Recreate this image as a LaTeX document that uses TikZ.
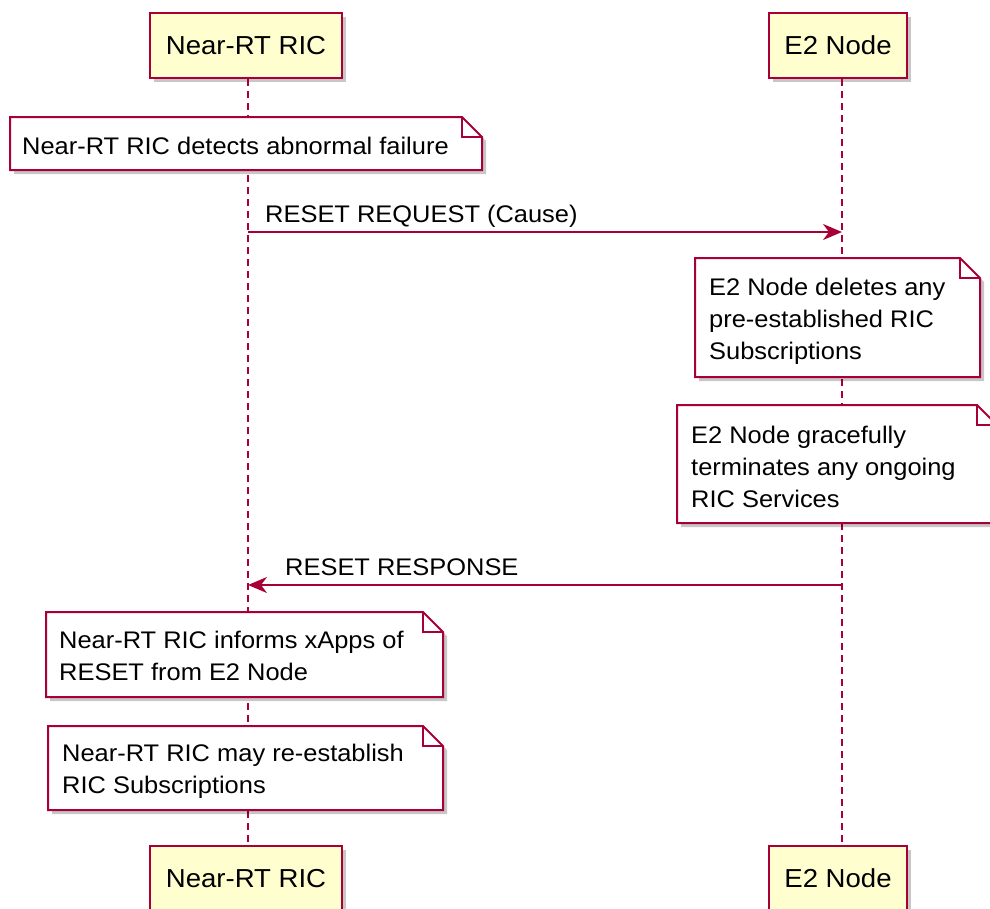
\documentclass[tikz,border=0pt]{standalone}
\usepackage{fontspec}
\setmainfont{Liberation Sans}[FakeStretch=1.06]
\usetikzlibrary{arrows.meta,shadows}
\definecolor{pumlred}{HTML}{A80036}
\definecolor{pumlfill}{HTML}{FEFECE}
\tikzset{
  softshadow/.style={drop shadow={shadow xshift=4pt,shadow yshift=-4pt,fill=black,opacity=0.22}},
  actor/.style={draw=pumlred, fill=pumlfill, line width=2pt, inner sep=0pt,
    font=\fontsize{26}{30}\selectfont, text=black, softshadow},
  lifeline/.style={draw=pumlred, line width=1.8pt, dash pattern=on 7pt off 5pt},
  msg/.style={draw=pumlred, line width=1.8pt, -{Stealth[length=19pt,width=16pt,inset=6pt]}},
  notebody/.style={draw=pumlred, fill=white, line width=2pt, line join=miter, softshadow},
  notefold/.style={draw=pumlred, line width=2pt},
  notetext/.style={anchor=base west, inner sep=0pt, align=left, text=black,
    font=\fontsize{24}{32}\selectfont},
  msgtext/.style={anchor=base west, inner sep=0pt, text=black,
    font=\fontsize{24}{32}\selectfont},
}
\newcommand\mknote[4]{%
  \draw[notebody] (#1,#2) -- ({#3-20},#2) -- (#3,{#2+20}) -- (#3,#4) -- (#1,#4) -- cycle;
  \draw[notefold] ({#3-20},#2) -- ({#3-20},{#2+20}) -- (#3,{#2+20});
}
\begin{document}
\begin{tikzpicture}[x=1pt,y=-1pt]
\useasboundingbox (0,0) rectangle (990,908);
\clip (0,0) rectangle (990,908);
\fill[white] (0,0) rectangle (990,908);

% participants
\node[actor, minimum width=192pt, minimum height=65pt] (ricT) at (246,45.5) {Near-RT RIC};
\node[actor, minimum width=138pt, minimum height=65pt] (e2T) at (838,45.5) {E2 Node};
\node[actor, minimum width=192pt, minimum height=65pt] (ricB) at (246,878.5) {Near-RT RIC};
\node[actor, minimum width=138pt, minimum height=65pt] (e2B) at (838,878.5) {E2 Node};

% lifelines
\draw[lifeline] ([xshift=2pt]ricT.south) -- ([xshift=2pt]ricB.north);
\draw[lifeline] ([xshift=4pt]e2T.south) -- ([xshift=4pt]e2B.north);

% note 1
\mknote{10}{117}{482}{170}
\node[notetext] (n1) at (22,154) {Near-RT RIC detects abnormal failure};

% request
\coordinate (reqA) at (248,232);
\coordinate (reqB) at (842,232);
\draw[msg] (reqA) -- (reqB);
\node[msgtext] (lreq) at (265,222) {RESET REQUEST (Cause)};

% note 2 (base anchor = last line)
\mknote{695}{258}{980}{377}
\node[notetext] (n2) at (709,359) {E2 Node deletes any\\pre-established RIC\\Subscriptions};

% note 3
\mknote{677}{405}{997}{523}
\node[notetext] (n3) at (691,507) {E2 Node gracefully\\terminates any ongoing\\RIC Services};

% response
\coordinate (resA) at (842,585);
\coordinate (resB) at (248,585);
\draw[msg] (resA) -- (resB);
\node[msgtext] (lres) at (285,575) {RESET RESPONSE};

% note 4
\mknote{46}{612}{443}{697}
\node[notetext] (n4) at (59,680) {Near-RT RIC informs xApps of\\RESET from E2 Node};

% note 5
\mknote{48}{726}{443}{810}
\node[notetext] (n5) at (62,793) {Near-RT RIC may re-establish\\RIC Subscriptions};
\end{tikzpicture}
\end{document}
